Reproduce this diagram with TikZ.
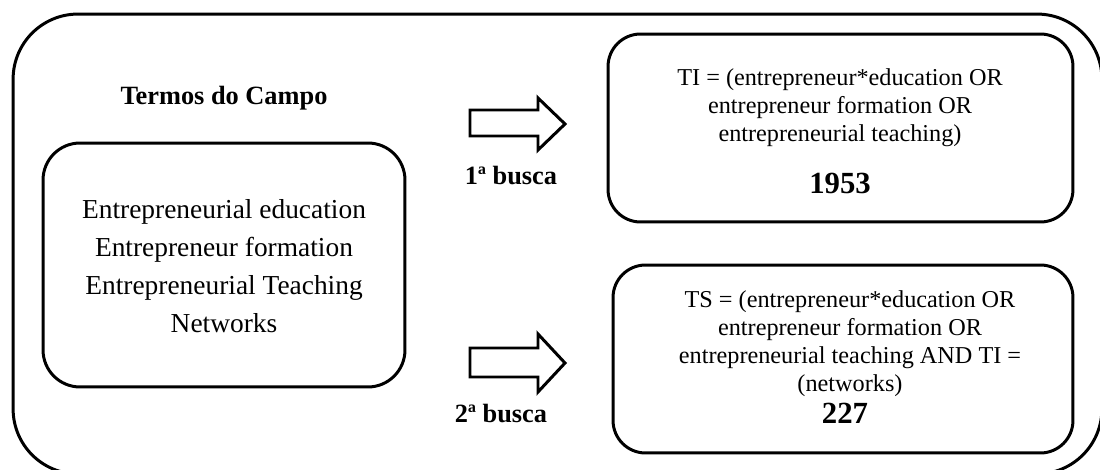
\documentclass[tikz,border=0pt]{standalone}
\usepackage{fontspec}
\setmainfont{Liberation Serif}
\begin{document}
\begin{tikzpicture}[x=0.02cm,y=-0.02cm,
 roundbox/.style={draw,line width=1.7pt,inner sep=0pt},
 termtext/.style={font=\fontsize{15.6}{21.5}\selectfont,align=center},
 querytext/.style={font=\fontsize{13.8}{15.9}\selectfont,align=center},
 buscatext/.style={font=\fontsize{15}{18}\selectfont\bfseries},
 hitstext/.style={font=\fontsize{17.5}{20}\selectfont\bfseries},
 blockarrow/.style={draw,line width=1.7pt,fill=white}]
 \useasboundingbox (0,0) rectangle (1100,470);
 \clip (0,0) rectangle (1100,470);

 %outer frame
 \node[roundbox,rounded corners=1.3cm,minimum width=21.78cm,minimum height=9.2cm] (campo) at (557.5,244) {};

 %terms of the field
 \node[buscatext] (titulo) at (224,98) {Termos do Campo};
 \node[roundbox,rounded corners=0.74cm,minimum width=7.24cm,minimum height=4.88cm] (termos) at (224,265) {};
 \node[termtext] (lista) at (224,266) {Entrepreneurial education\\Entrepreneur formation\\Entrepreneurial Teaching\\Networks};

 %first search
 \node[roundbox,rounded corners=0.65cm,minimum width=9.3cm,minimum height=3.76cm] (busca1) at (840.5,128) {};
 \node[querytext] (query1) at (840,108) {TI = (entrepreneur*education OR\\entrepreneur formation OR\\entrepreneurial teaching)};
 \node[hitstext] (hits1) at (840,183) {1953};

 %second search
 \node[roundbox,rounded corners=0.65cm,minimum width=9.2cm,minimum height=3.76cm] (busca2) at (843,359) {};
 \node[querytext] (query2) at (850,344) {TS = (entrepreneur*education OR\\entrepreneur formation OR\\entrepreneurial teaching AND TI =\\(networks)};
 \node[hitstext] (hits2) at (845,413) {227};

 %arrows
 \draw[blockarrow] (470,110) -- (538,110) -- (538,98) -- (565,124) -- (538,150) -- (538,136) -- (470,136) -- cycle;
 \draw[blockarrow] (470,348) -- (538,348) -- (538,334) -- (565,363) -- (538,392) -- (538,377) -- (470,377) -- cycle;
 \node[buscatext] (rotulo1) at (511,176) {1ª busca};
 \node[buscatext] (rotulo2) at (501,414) {2ª busca};
\end{tikzpicture}
\end{document}
